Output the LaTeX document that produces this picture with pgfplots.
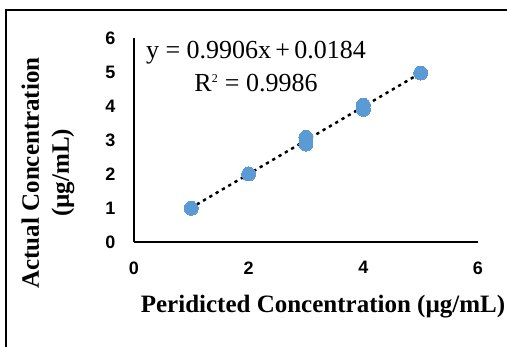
\documentclass[border=0pt]{standalone}
\usepackage{pgfplots}
\pgfplotsset{compat=1.18}
\usepackage{fontspec}
\setmainfont{Liberation Serif}
\newfontfamily\ticksfont{Liberation Sans}
\definecolor{ptblue}{RGB}{91,155,213}
\begin{document}
\begin{tikzpicture}[x=1pt,y=1pt]
\path[use as bounding box] (0,0) rectangle (507,347);
\draw[line width=2.5pt, line cap=rect] (6,-5) -- (6,337) -- (512,337);
\begin{axis}[
  at={(134pt,105pt)}, anchor=origin,
  scale only axis, width=344pt, height=204pt,
  xmin=0, xmax=6, ymin=0, ymax=6,
  axis x line*=bottom, axis y line*=left,
  axis line style={line width=2.5pt, -},
  xtick={0,2,4,6}, ytick={0,1,2,3,4,5,6},
  major tick length=0pt,
  tick style={draw=none},
  /pgf/number format/assume math mode=true,
  ticklabel style={font=\ticksfont\fontsize{18}{20}\selectfont\bfseries},
  xticklabel style={yshift=-16pt},
  yticklabel style={xshift=-15pt},
  clip=false,
]
\addplot[black, line width=2.3pt, dash pattern=on 2.3pt off 5pt] coordinates {(1,1.0090) (5,4.9714)};
\addplot[only marks, mark=*, mark size=7pt, mark options={fill=ptblue, draw=ptblue, line width=0pt}] coordinates {
  (1,0.99) (2,2.0) (3,3.08) (3,2.88) (4,4.02) (4,3.9) (5,4.97)
};
\addplot[black, line width=2.3pt, dash pattern=on 2.3pt off 5pt, dash phase=1pt] coordinates {(1,1.0090) (5,4.9714)};
\end{axis}
\node[font=\fontsize{26}{30}\selectfont] at (256,294) {y = 0.9906x\,+\,0.0184};
\node[font=\fontsize{26}{30}\selectfont] at (256,264) {R\textsuperscript{\fontsize{12}{12}\selectfont 2} = 0.9986};
\node[font=\fontsize{25}{28}\selectfont\bfseries] at (323,40) {Peridicted Concentration (µg/mL)};
\node[font=\fontsize{25}{30}\selectfont\bfseries, rotate=90, align=center] at (48,174) {Actual Concentration\\(µg/mL)};
\end{tikzpicture}
\end{document}
